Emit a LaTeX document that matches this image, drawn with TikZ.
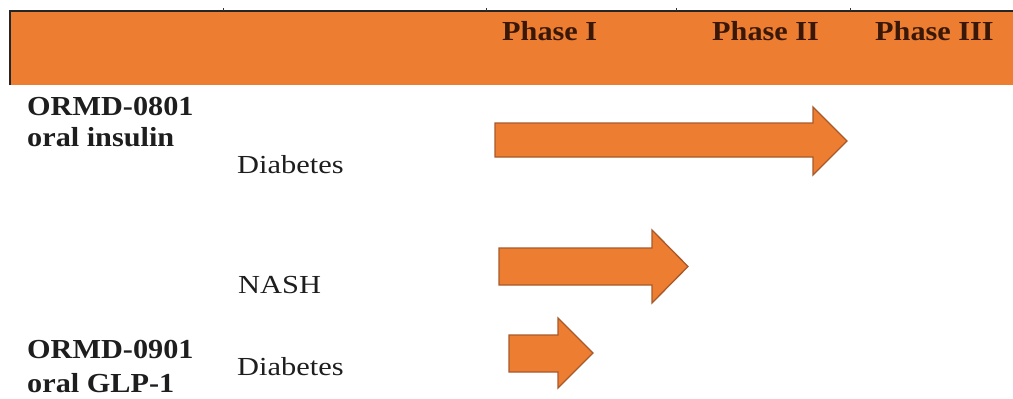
\documentclass[tikz,border=0pt]{standalone}
\usepackage{fontspec}
\setmainfont{Liberation Serif}[FakeStretch=1.17, BoldFeatures={FakeStretch=1.1}]
\definecolor{bandorange}{HTML}{ED7D31}
\definecolor{arrowedge}{HTML}{A8592A}
\definecolor{phasetext}{HTML}{3A1808}
\definecolor{labeltext}{HTML}{1E1E1E}
\begin{document}
\begin{tikzpicture}[x=1pt,y=-1pt,
  phaselabel/.style={anchor=base west,inner sep=0pt,text=phasetext,font=\fontsize{27.5}{29}\selectfont\bfseries},
  druglabel/.style={anchor=base west,inner sep=0pt,text=labeltext,font=\fontsize{27.5}{29}\selectfont\bfseries},
  indlabel/.style={anchor=base west,inner sep=0pt,text=labeltext,font=\fontsize{26}{28}\selectfont},
  blockarrow/.style={fill=bandorange,draw=arrowedge,line width=1.3pt,line join=miter},
  tickmark/.style={draw=black!80,line width=1pt}]
\useasboundingbox (0,0) rectangle (1013,399);
% header band
\fill[bandorange] (10,11) rectangle (1013,85);
\draw[black!85,line width=1.4pt] (10,85) -- (10,11) -- (1013,11);
\foreach \tx in {223,486,676,850} \draw[tickmark] (\tx,8) -- (\tx,11);
% phase labels
\node[phaselabel] (p1) at (502,40) {Phase I};
\node[phaselabel] (p2) at (712,40) {Phase II};
\node[phaselabel] (p3) at (875,40) {Phase III};
% drug labels
\node[druglabel] (d1a) at (27,115) {ORMD-0801};
\node[druglabel] (d1b) at (27,146) {oral insulin};
\node[druglabel] (d2a) at (27,358) {ORMD-0901};
\node[druglabel] (d2b) at (27,392) {oral GLP-1};
% indications
\node[indlabel] (i1) at (237,173) {Diabetes};
\node[indlabel] (i2) at (238,293) {NASH};
\node[indlabel] (i3) at (237,375) {Diabetes};
% block arrows
\draw[blockarrow] (495,123) -- (813,123) -- (813,107) -- (847,141) -- (813,175) -- (813,157) -- (495,157) -- cycle;
\draw[blockarrow] (499,248) -- (652,248) -- (652,230) -- (688,266.5) -- (652,303) -- (652,285) -- (499,285) -- cycle;
\draw[blockarrow] (509,335) -- (558,335) -- (558,318) -- (593,353) -- (558,388) -- (558,372) -- (509,372) -- cycle;
\end{tikzpicture}
\end{document}
